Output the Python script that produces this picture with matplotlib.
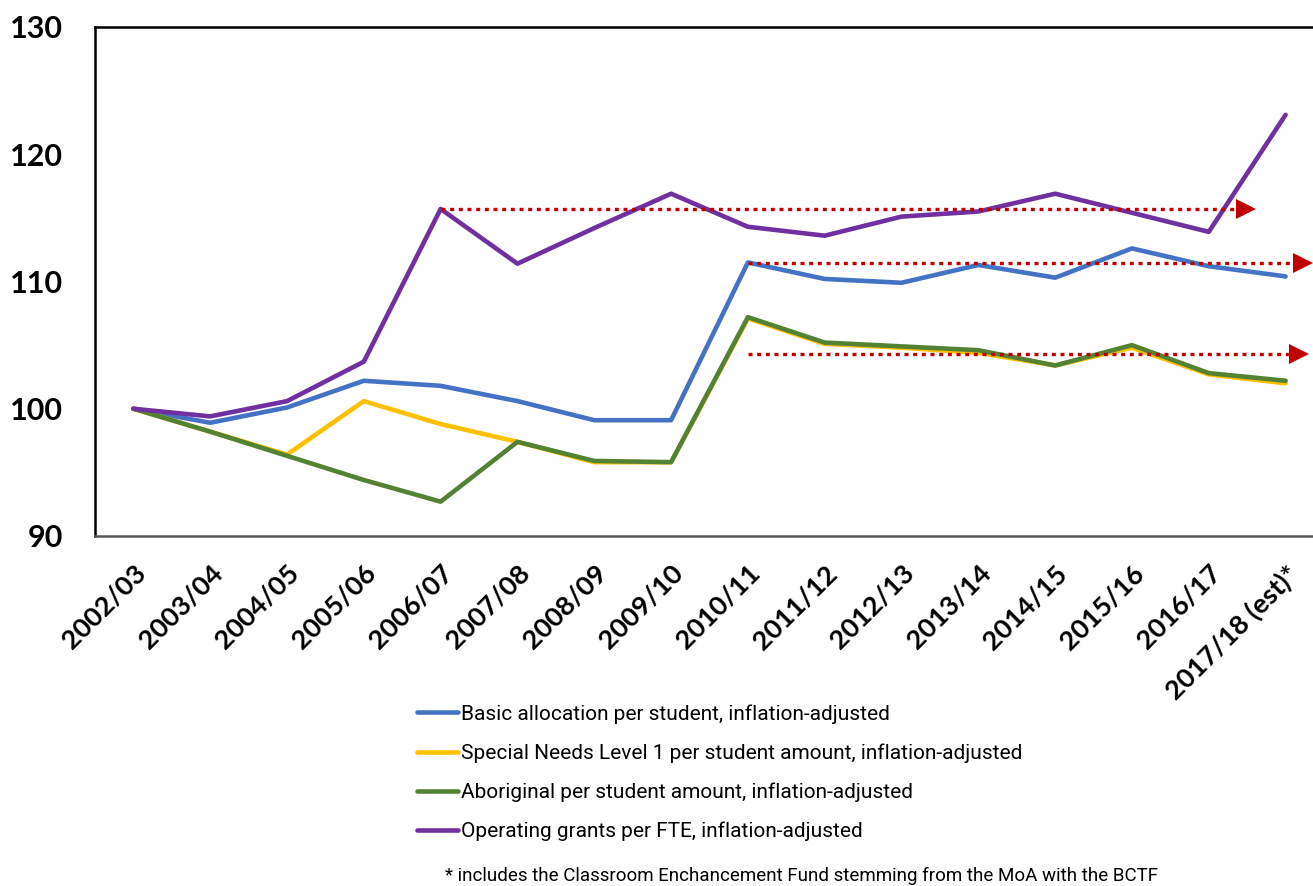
import numpy as np
import matplotlib.pyplot as plt
from matplotlib.transforms import offset_copy

# School years on the x axis
years = ['2002/03', '2003/04', '2004/05', '2005/06', '2006/07', '2007/08',
         '2008/09', '2009/10', '2010/11', '2011/12', '2012/13', '2013/14',
         '2014/15', '2015/16', '2016/17', '2017/18 (est)*']

# Index values (2002/03 = 100)
basic = [100, 98.9, 100.1, 102.2, 101.8, 100.6, 99.1, 99.1, 111.5, 110.2,
         109.9, 111.3, 110.3, 112.6, 111.2, 110.4]
special_needs = [100, 98.2, 96.4, 100.6, 98.8, 97.4, 95.8, 95.8, 107.1, 105.1,
                 104.8, 104.4, 103.4, 104.8, 102.7, 102.0]
aboriginal = [100, 98.2, 96.3, 94.4, 92.7, 97.4, 95.9, 95.8, 107.2, 105.2,
              104.9, 104.6, 103.4, 105.0, 102.8, 102.2]
operating = [100, 99.4, 100.6, 103.7, 115.7, 111.4, 114.2, 116.9, 114.3, 113.6,
             115.1, 115.5, 116.9, 115.4, 113.9, 123.1]

series_labels = ['Basic allocation per student, inflation-adjusted',
                 'Special Needs Level 1 per student amount, inflation-adjusted',
                 'Aboriginal per student amount, inflation-adjusted',
                 'Operating grants per FTE, inflation-adjusted']
colors = ['#4472C4', '#FFC000', '#548235', '#7030A0']

# Red dotted reference levels: (level, start index, arrow tip)
ref_levels = [115.7, 111.45, 104.3]
ref_starts = [4, 8, 8]
ref_ends = [14.6, 15.35, 15.3]

footnote = '* includes the Classroom Enchancement Fund stemming from the MoA with the BCTF'

narrow = ['Roboto', 'DejaVu Sans']
tickfont = ['Lato', 'DejaVu Sans']

fig = plt.figure(figsize=(13.13, 8.86), dpi=100)
ax = fig.add_axes([95 / 1313, 1 - 536 / 886, 1229 / 1313, 509 / 886])

x = np.arange(len(years))
for vals, lab, col in zip([basic, special_needs, aboriginal, operating], series_labels, colors):
    ax.plot(x, vals, color=col, lw=3.3, label=lab, solid_capstyle='round', zorder=3)

for lvl, s, e in zip(ref_levels, ref_starts, ref_ends):
    ax.plot([s, e - 0.2], [lvl, lvl], color='#C00000', lw=2.4,
            linestyle=(0, (1.2, 1.4)), dash_capstyle='butt', zorder=4)
    ax.plot([e - 0.12], [lvl], marker='>', color='#C00000', markersize=15,
            markeredgewidth=0, zorder=4)

ax.set_xlim(-0.5, 15.5)
ax.set_ylim(90, 130)
ax.set_yticks([90, 100, 110, 120, 130])
ax.set_xticks(x)
ax.set_xticklabels(years, rotation=45, ha='right', va='top', rotation_mode='anchor',
                   fontsize=19.5, fontweight='bold', family=tickfont)
for lab in ax.get_xticklabels():
    lab.set_transform(offset_copy(lab.get_transform(), fig=fig, x=-9, y=0, units='dots'))
for lab in ax.get_yticklabels():
    lab.set_family(tickfont)
    lab.set_fontweight('bold')
    lab.set_fontsize(22)
ax.tick_params(axis='both', length=0)
ax.tick_params(axis='y', pad=23)
ax.tick_params(axis='x', pad=18)

for sp in ax.spines.values():
    sp.set_linewidth(1.8)
    sp.set_color('black')
ax.spines['bottom'].set_color('#555555')

leg = fig.legend(loc='upper left', bbox_to_anchor=(417 / 1313, 1 - 704 / 886),
                 frameon=False, prop={'family': narrow, 'size': 15},
                 handlelength=1.95, handletextpad=0.15, labelspacing=0.95,
                 borderaxespad=0, borderpad=0)

fig.text(445 / 1313, 1 - 876 / 886, footnote, family=narrow, fontsize=13.5,
         va='center', ha='left')

fig.savefig('out.png', dpi=100)
